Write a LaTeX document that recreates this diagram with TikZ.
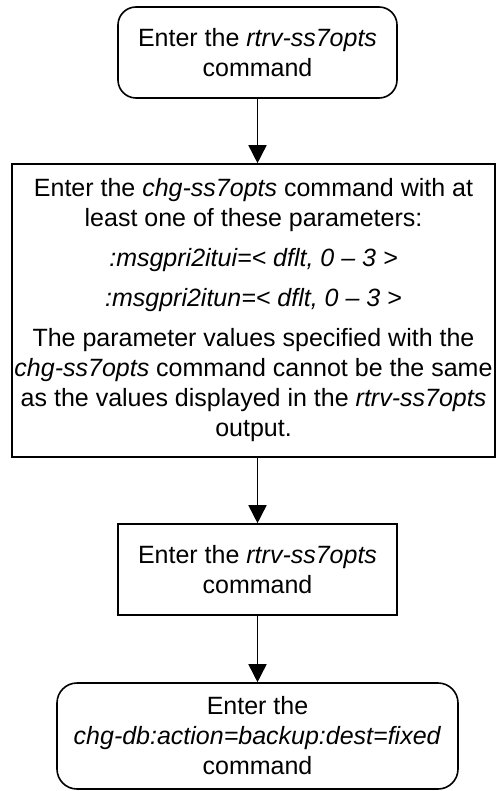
\documentclass[tikz,border=0pt]{standalone}
\usepackage{fontspec}
\setmainfont{Liberation Sans}
\usetikzlibrary{arrows.meta}

\begin{document}
\begin{tikzpicture}[x=0.5pt,y=-0.5pt,
  box/.style={draw,line width=0.8pt,align=center,inner sep=0pt,font=\fontsize{12.5pt}{15pt}\selectfont},
  endbox/.style={box,rounded corners=9pt},
  flow/.style={line width=0.8pt,-{Triangle[length=9pt,width=9pt]}}]
  \useasboundingbox (0,0) rectangle (496,791);
  \coordinate (S) at (257.5,52.5);
  \coordinate (C) at (253.5,310.5);
  \coordinate (R) at (257.5,569.5);
  \coordinate (B) at (257.5,736);
  \node[endbox,minimum width=139.5pt,minimum height=45.5pt] (start) at (S)
    {Enter the \textit{rtrv-ss7opts}\\command};
  \node[box,minimum width=241.5pt,minimum height=146.5pt] (chg) at (C)
    {Enter the \textit{chg-ss7opts} command with at\\least one of these parameters:\\[5pt]
     \textit{:msgpri2itui=< dflt, 0 – 3 >}\\[5pt]
     \textit{:msgpri2itun=< dflt, 0 – 3 >}\\[5pt]
     The parameter values specified with the\\\textit{chg-ss7opts} command cannot be the same\\
     as the values displayed in the \textit{rtrv-ss7opts}\\output.};
  \node[box,minimum width=139.5pt,minimum height=45.5pt] (rtrv) at (R)
    {Enter the \textit{rtrv-ss7opts}\\command};
  \node[endbox,minimum width=200.5pt,minimum height=53pt,rounded corners=10pt] (backup) at (B)
    {Enter the\\\textit{chg-db:action=backup:dest=fixed}\\command};
  \draw[flow] (start) -- (start |- chg.north);
  \draw[flow] (chg.south -| rtrv) -- (rtrv);
  \draw[flow] (rtrv) -- (backup);
\end{tikzpicture}
\end{document}
